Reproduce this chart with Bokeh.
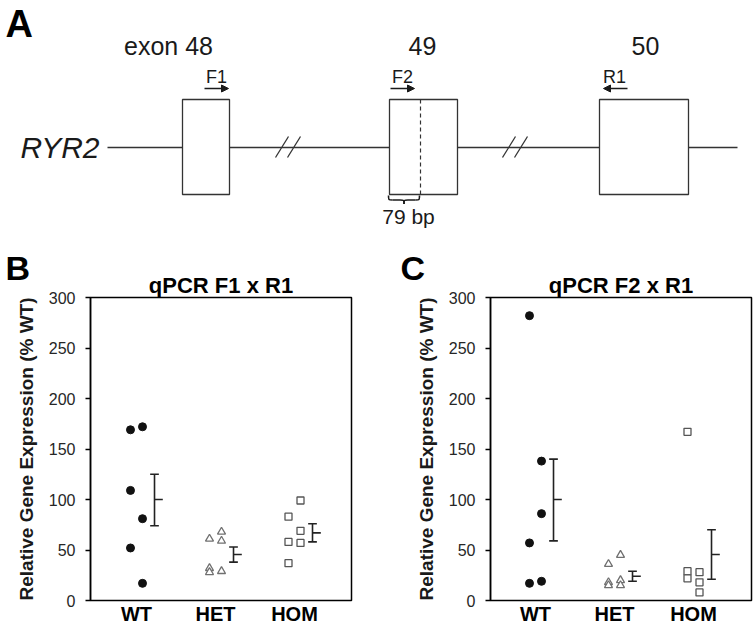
from bokeh.plotting import figure
from bokeh.models import Range1d, FixedTicker, Title, Arrow, NormalHead
from bokeh.layouts import column, row
from bokeh.embed import file_html
from bokeh.resources import INLINE
from bokeh.core.properties import value

# ---------------- data ----------------
categories = ["WT", "HET", "HOM"]
y_ticks = [0, 50, 100, 150, 200, 250, 300]
y_label = "Relative Gene Expression (% WT)"

# Panel B: qPCR F1 x R1 (individual samples, drawn in two columns per group)
b_title = "qPCR F1 x R1"
b_left = {"WT": [169, 109, 52], "HET": [61, 32, 28], "HOM": [83, 58, 37]}
b_right = {"WT": [172, 81, 17], "HET": [68, 59, 29], "HOM": [99, 69, 57]}
b_mean = [100, 45.5, 67]
b_lower = [74, 38, 58]
b_upper = [125, 53, 76]

# Panel C: qPCR F2 x R1
c_title = "qPCR F2 x R1"
c_left = {"WT": [282, 57, 17], "HET": [36, 18, 15], "HOM": [167, 29, 22]}
c_right = {"WT": [138, 86, 19], "HET": [45, 20, 15], "HOM": [28, 18, 8]}
c_mean = [100, 24, 45.5]
c_lower = [59, 19, 21]
c_upper = [140, 29, 70]

# Panel A: gene diagram labels
exon_labels = ["exon 48", "49", "50"]
primer_labels = ["F1", "F2", "R1"]
gene_name = "RYR2"
shift_label = "79 bp"

FONT = "Liberation Sans"
INK = "#1a1a1a"
LINE = "#333333"

# ---------------- panel A (diagram drawn in page pixel coordinates) ----------------
pa = figure(width=755, height=248, x_range=Range1d(0, 755), y_range=Range1d(248, 0),
            output_backend="svg", toolbar_location=None,
            x_axis_type=None, y_axis_type=None,
            min_border_left=0, min_border_right=0, min_border_top=0, min_border_bottom=0)
pa.outline_line_color = None
pa.background_fill_color = "white"
pa.border_fill_color = "white"

# intron line pieces
pa.segment(x0=[107, 229, 457, 688], y0=[147] * 4, x1=[182, 389, 599, 737], y1=[147] * 4,
           line_color=LINE, line_width=1.3)
# exon boxes
pa.quad(left=[182, 389, 599], right=[229, 457, 688], top=[99] * 3, bottom=[194] * 3,
        fill_color="white", line_color=LINE, line_width=1.3)
# dashed splice line in exon 49
pa.segment(x0=[420], y0=[99], x1=[420], y1=[194], line_color=LINE, line_width=1.2, line_dash="4 3")
# break marks //
pa.segment(x0=[275, 287, 502, 514], y0=[157] * 4, x1=[288, 300, 515, 527], y1=[136] * 4,
           line_color=LINE, line_width=1.3)
# brace
pa.bezier(x0=[388, 399.5, 403.5, 415], y0=[195, 199.5, 203.5, 199.5],
          x1=[392, 403.5, 407.5, 419], y1=[199.5, 203.5, 199.5, 195],
          cx0=[388, 403.5, 403.5, 419], cy0=[199.5, 199.5, 199.5, 199.5],
          cx1=[388, 403.5, 403.5, 419], cy1=[199.5, 199.5, 199.5, 199.5],
          line_color=INK, line_width=1.6)
pa.segment(x0=[392, 407.5], y0=[199.5, 199.5], x1=[399.5, 415], y1=[199.5, 199.5],
           line_color=INK, line_width=1.6)

# primer arrows
for xs, xe in [(204, 228), (390, 414), (627, 603)]:
    pa.add_layout(Arrow(end=NormalHead(size=7, fill_color=INK, line_color=INK, line_width=1),
                        x_start=xs, y_start=88, x_end=xe, y_end=88,
                        line_color=INK, line_width=1.4))

pa.text(x=[168, 422, 645], y=[45.5, 45.5, 45.5], text=exon_labels, text_font=value(FONT),
        text_font_size="25px", text_align="center", text_baseline="middle", text_color=INK)
pa.text(x=[216, 402, 614], y=[76, 76, 76], text=primer_labels, text_font=value(FONT),
        text_font_size="18px", text_align="center", text_baseline="middle", text_color=INK)
pa.text(x=[99], y=[146.5], text=[gene_name], text_font=value(FONT), text_font_style="italic",
        text_font_size="30px", text_align="right", text_baseline="middle", text_color=INK)
pa.text(x=[408], y=[215.5], text=[shift_label], text_font=value(FONT),
        text_font_size="21px", text_align="center", text_baseline="middle", text_color=INK)
pa.text(x=[5], y=[23], text=["A"], text_font=value(FONT), text_font_style="bold",
        text_font_size="38px", text_align="left", text_baseline="middle", text_color="black")


# ---------------- panels B and C ----------------
def make_panel(title, letter, left, right, mean, lower, upper, width,
               border_left, border_right, x_start, x_end, letter_offset):
    p = figure(width=width, height=379, x_range=Range1d(x_start, x_end), y_range=Range1d(0, 300),
               output_backend="svg", toolbar_location=None,
               min_border_left=border_left, min_border_right=border_right,
               min_border_top=49, min_border_bottom=26)
    p.grid.visible = False
    p.background_fill_color = "white"
    p.border_fill_color = "white"
    p.outline_line_color = "black"
    p.outline_line_width = 1.5
    p.outline_line_alpha = 1.0

    p.add_layout(Title(text=title, align="center", text_font=FONT, text_font_size="22px",
                       text_font_style="bold", text_color="black", standoff=0), "above")
    p.add_layout(Title(text=letter, align="left", offset=letter_offset, text_font=FONT,
                       text_font_size="34px", text_font_style="bold", text_color="black",
                       standoff=-33), "above")

    # y axis
    p.yaxis.ticker = FixedTicker(ticks=y_ticks)
    p.yaxis.minor_tick_line_color = None
    p.yaxis.major_tick_in = 0
    p.yaxis.major_tick_out = 5
    p.yaxis.major_tick_line_width = 1.3
    p.yaxis.major_tick_line_color = "black"
    p.yaxis.axis_line_color = "black"
    p.yaxis.axis_line_width = 1.5
    p.yaxis.major_label_text_font = FONT
    p.yaxis.major_label_text_font_size = "16px"
    p.yaxis.major_label_text_color = "#262626"
    p.yaxis.major_label_standoff = 10
    p.yaxis.axis_label = y_label
    p.yaxis.axis_label_text_font = FONT
    p.yaxis.axis_label_text_font_size = "19px"
    p.yaxis.axis_label_text_font_style = "bold"
    p.yaxis.axis_label_text_color = INK
    p.yaxis.axis_label_standoff = 9

    # x axis (categories)
    p.xaxis.ticker = FixedTicker(ticks=[1, 2, 3])
    p.xaxis.major_label_overrides = {i + 1: c for i, c in enumerate(categories)}
    p.xaxis.minor_tick_line_color = None
    p.xaxis.major_tick_line_color = None
    p.xaxis.major_tick_in = 0
    p.xaxis.major_tick_out = 0
    p.xaxis.axis_line_color = None
    p.xaxis.major_label_text_font = FONT
    p.xaxis.major_label_text_font_size = "20px"
    p.xaxis.major_label_text_font_style = "bold"
    p.xaxis.major_label_text_color = "black"
    p.xaxis.major_label_standoff = 2

    jitter = 0.076
    styles = {
        "WT": dict(marker="circle", size=8, fill_color="#111111", line_color="#111111", line_width=1),
        "HET": dict(marker="triangle", size=8, fill_color="white", line_color="#707070", line_width=1.3),
        "HOM": dict(marker="square", size=7, fill_color="white", line_color="#555555", line_width=1.3),
    }
    for i, cat in enumerate(categories):
        xc = i + 1
        p.scatter(x=[xc - jitter] * len(left[cat]), y=left[cat], **styles[cat])
        p.scatter(x=[xc + jitter] * len(right[cat]), y=right[cat], **styles[cat])

    bar_off, cap, mean_len = 0.228, 0.055, 0.105
    xb = [i + 1 + bar_off for i in range(len(categories))]
    p.segment(x0=xb, y0=lower, x1=xb, y1=upper, line_color="#222222", line_width=1.6)
    p.segment(x0=[x - cap for x in xb], y0=lower, x1=[x + cap for x in xb], y1=lower,
              line_color="#222222", line_width=1.6)
    p.segment(x0=[x - cap for x in xb], y0=upper, x1=[x + cap for x in xb], y1=upper,
              line_color="#222222", line_width=1.6)
    p.segment(x0=xb, y0=mean, x1=[x + mean_len for x in xb], y1=mean,
              line_color="#222222", line_width=1.6)
    return p


pb = make_panel(b_title, "B", b_left, b_right, b_mean, b_lower, b_upper,
                width=385, border_left=90, border_right=34,
                x_start=1 - 46 / 79, x_end=3 + 57 / 79, letter_offset=-85)
pc = make_panel(c_title, "C", c_left, c_right, c_mean, c_lower, c_upper,
                width=370, border_left=105, border_right=4,
                x_start=1 - 45 / 79, x_end=3 + 58 / 79, letter_offset=-90)

layout = column(pa, row(pb, pc))
open("out.html", "w").write(file_html(layout, INLINE))
